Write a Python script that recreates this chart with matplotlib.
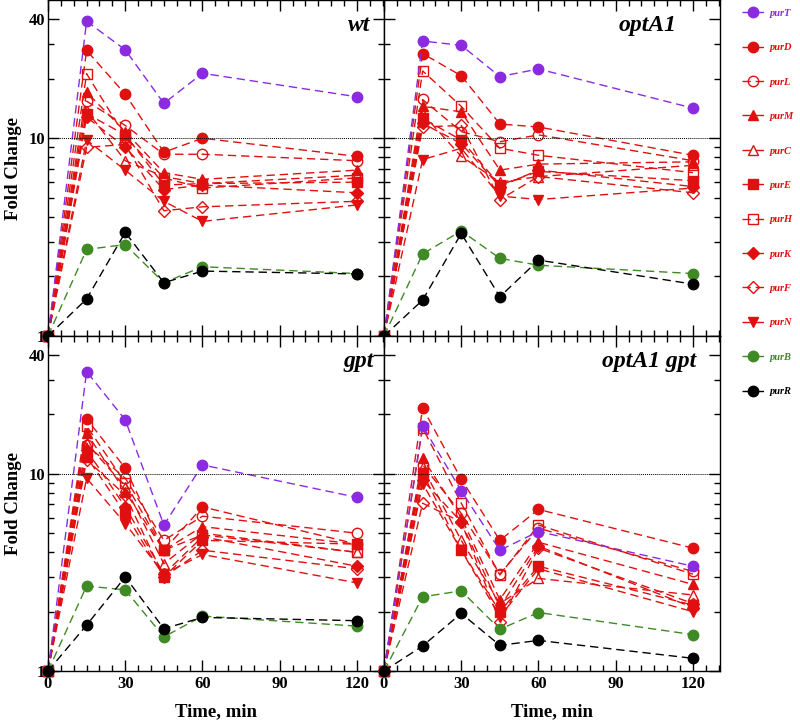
import numpy as np
import matplotlib
matplotlib.use("Agg")
import matplotlib.pyplot as plt
from matplotlib.ticker import FixedLocator, NullFormatter, FixedFormatter

plt.rcParams['font.family'] = ['Liberation Serif', 'DejaVu Serif']
plt.rcParams['font.weight'] = 'bold'

# DATA (fold change vs time)
time = [0, 15, 30, 45, 60, 120]

genes = ["purT", "purD", "purL", "purM", "purC", "purE", "purH", "purK", "purF", "purN", "purB", "purR"]

wt = {
    "purT": [1, 39, 28, 15, 21.3, 16.2],
    "purD": [1, 27.8, 16.7, 8.5, 10, 8.1],
    "purL": [1, 15.4, 11.6, 8.3, 8.3, 7.7],
    "purM": [1, 17.1, 10.8, 6.7, 6.2, 6.9],
    "purC": [1, 13.8, 7.7, 6.4, 5.9, 6.5],
    "purE": [1, 13.3, 10.4, 5.8, 5.9, 6.0],
    "purH": [1, 21.2, 10.2, 6.3, 5.6, 6.3],
    "purK": [1, 12.8, 9.0, 5.5, 5.8, 5.3],
    "purF": [1, 9.0, 9.3, 4.3, 4.5, 4.8],
    "purN": [1, 9.8, 6.9, 4.8, 3.8, 4.6],
    "purB": [1, 2.74, 2.9, 1.86, 2.24, 2.07],
    "purR": [1, 1.54, 3.34, 1.86, 2.13, 2.06],
}

optA1 = {
    "purT": [1, 31, 29.5, 20.5, 22.4, 14.2],
    "purD": [1, 26.8, 20.7, 11.8, 11.4, 8.2],
    "purL": [1, 15.7, 10.8, 9.6, 10.4, 7.7],
    "purM": [1, 14.5, 13.6, 6.9, 7.4, 7.6],
    "purC": [1, 13.3, 8.1, 6.0, 6.4, 7.3],
    "purE": [1, 12.6, 9.8, 5.8, 6.8, 6.1],
    "purH": [1, 21.9, 14.5, 8.9, 8.2, 6.7],
    "purK": [1, 11.9, 9.4, 5.7, 6.9, 5.7],
    "purF": [1, 11.4, 11.6, 4.9, 6.4, 5.3],
    "purN": [1, 7.8, 8.9, 5.1, 4.9, 5.6],
    "purB": [1, 2.6, 3.4, 2.47, 2.28, 2.07],
    "purR": [1, 1.52, 3.3, 1.58, 2.42, 1.83],
}

gpt = {
    "purT": [1, 33, 18.8, 5.5, 11.1, 7.6],
    "purD": [1, 19, 10.7, 4.1, 6.8, 4.4],
    "purL": [1, 14, 9.5, 4.6, 6.1, 5.0],
    "purM": [1, 16.1, 8.1, 4.1, 5.4, 4.4],
    "purC": [1, 14.3, 8.6, 3.5, 5.0, 4.0],
    "purE": [1, 12.2, 6.3, 3.0, 4.6, 4.4],
    "purH": [1, 17.5, 9.0, 4.1, 4.9, 4.0],
    "purK": [1, 13.2, 6.8, 3.1, 4.8, 3.4],
    "purF": [1, 11.8, 7.8, 3.0, 4.1, 3.3],
    "purN": [1, 9.5, 5.6, 3.1, 3.9, 2.8],
    "purB": [1, 2.7, 2.58, 1.49, 1.9, 1.69],
    "purR": [1, 1.71, 3.0, 1.64, 1.87, 1.80],
}

optA1_gpt = {
    "purT": [1, 17.5, 8.2, 4.1, 5.1, 3.4],
    "purD": [1, 21.6, 9.4, 4.6, 6.6, 4.2],
    "purL": [1, 11.1, 6.3, 3.1, 5.3, 3.2],
    "purM": [1, 12.0, 6.0, 2.3, 4.5, 2.75],
    "purC": [1, 10.8, 4.6, 2.2, 2.95, 2.43],
    "purE": [1, 10.1, 4.1, 2.0, 3.4, 2.16],
    "purH": [1, 17.1, 7.1, 3.07, 5.5, 3.1],
    "purK": [1, 9.3, 5.7, 2.1, 4.3, 2.1],
    "purF": [1, 7.1, 5.7, 1.78, 4.2, 2.2],
    "purN": [1, 8.9, 4.1, 1.89, 3.3, 2.0],
    "purB": [1, 2.38, 2.55, 1.63, 1.98, 1.53],
    "purR": [1, 1.34, 1.96, 1.35, 1.43, 1.16],
}

panels = [("wt", wt), ("optA1", optA1), ("gpt", gpt), ("optA1 gpt", optA1_gpt)]
label_x = [0.96, 0.87, 0.97, 0.93]

# STYLES
purple = "#8a2be2"
red = "#e01010"
green = "#3f8a25"
style = {
    "purT": (purple, "o", True),
    "purD": (red, "o", True),
    "purL": (red, "o", False),
    "purM": (red, "^", True),
    "purC": (red, "^", False),
    "purE": (red, "s", True),
    "purH": (red, "s", False),
    "purK": (red, "D", True),
    "purF": (red, "D", False),
    "purN": (red, "v", True),
    "purB": (green, "o", True),
    "purR": ("black", "o", True),
}
draw_order = ["purD", "purL", "purM", "purC", "purE", "purH", "purK", "purF", "purN", "purT", "purB", "purR"]

fig = plt.figure(figsize=(8, 7.2), dpi=100)
rects = [
    [0.06, 0.5333, 0.42, 0.4667],
    [0.48, 0.5333, 0.42, 0.4667],
    [0.06, 0.068, 0.42, 0.4653],
    [0.48, 0.068, 0.42, 0.4653],
]

handles = {}
for i, (name, data) in enumerate(panels):
    ax = fig.add_axes(rects[i])
    for g in draw_order:
        c, m, filled = style[g]
        ms = 7.5 if m in ("o", "s") else 7
        if m == "D":
            ms = 6
        ln, = ax.plot(time, data[g], color=c, marker=m, ms=ms, lw=1,
                      linestyle=(0, (6, 3.5)),
                      mfc=c if filled else "none", mec=c, mew=1,
                      clip_on=False, label=g)
        handles[g] = ln
    ax.axhline(10, color="black", lw=0.7, linestyle=(0, (1, 1)))
    ax.set_yscale("log")
    ax.set_ylim(1, 50)
    ax.set_xlim(0, 130.5)
    ax.yaxis.set_major_locator(FixedLocator([1, 10, 40]))
    ax.yaxis.set_minor_locator(FixedLocator([2, 3, 4, 5, 6, 7, 8, 9, 20, 30]))
    ax.yaxis.set_minor_formatter(NullFormatter())
    ax.xaxis.set_major_locator(FixedLocator([0, 30, 60, 90, 120]))
    ax.xaxis.set_minor_locator(FixedLocator(np.arange(0, 131, 5)))
    ax.tick_params(which="both", direction="in", top=True, right=True, width=1)
    ax.tick_params(which="major", length=8, labelsize=12)
    ax.tick_params(which="minor", length=4)
    ax.tick_params(axis="y", pad=2)
    if i in (0, 2):
        ax.yaxis.set_major_formatter(FixedFormatter(["1", "10", "40"]))
        ax.set_ylabel("Fold Change", fontsize=13.5, fontweight="bold", labelpad=5)
    else:
        ax.set_yticklabels([])
    if i in (0, 1):
        ax.set_xticklabels([])
    else:
        ax.set_xlabel("Time, min", fontsize=13.5, fontweight="bold", labelpad=8)
    ax.text(label_x[i], 0.955, name, transform=ax.transAxes, ha="right", va="top",
            fontsize=17, fontweight="bold", fontstyle="italic")
    for s in ax.spines.values():
        s.set_linewidth(1)

leg = fig.legend([handles[g] for g in genes], genes, loc="upper left",
                 bbox_to_anchor=(0.9275, 0.988), frameon=False, fontsize=7.5,
                 borderpad=0, borderaxespad=0,
                 handlelength=2.2, handletextpad=0.5, labelspacing=2.41,
                 markerscale=1)
for t, g in zip(leg.get_texts(), genes):
    t.set_color(style[g][0])
    t.set_fontstyle("italic")
    t.set_fontweight("bold")

plt.savefig("out.png", dpi=100)
